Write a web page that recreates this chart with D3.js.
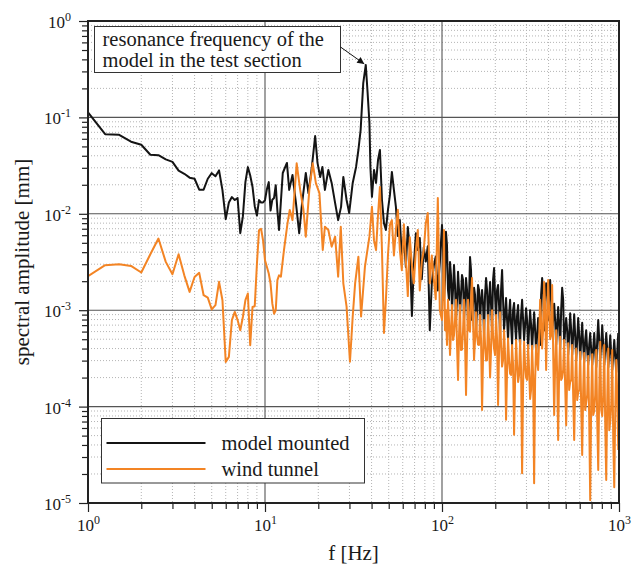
<!DOCTYPE html>
<html>
<head>
<meta charset="utf-8">
<script src="https://cdn.jsdelivr.net/npm/d3@7/dist/d3.min.js"></script>
<style>
  body { margin: 0; background: #fff; }
  svg text { font-family: 'Liberation Serif', 'Times New Roman', serif; fill: #1a1a1a; }
</style>
</head>
<body>
<div id="chart"></div>
<script>
// 1 - 12 Hz, both spectra on the same bins
const fLow = [1, 1.25, 1.5, 1.75, 2, 2.25, 2.5, 2.75, 3, 3.25, 3.5, 3.75, 4, 4.25, 4.5, 4.75, 5, 5.25, 5.5, 5.75,
  6, 6.25, 6.5, 6.75, 7, 7.25, 7.5, 7.75, 8, 8.25, 8.5, 8.75, 9, 9.25, 9.5, 9.75, 10, 10.25, 10.5, 10.75,
  11, 11.25, 11.5, 11.75, 12]
const blackLow = [0.113, 0.067, 0.066, 0.056, 0.052, 0.041, 0.0405, 0.0367, 0.0346, 0.028, 0.026, 0.0237, 0.0231, 0.0178, 0.0178, 0.0231, 0.0264, 0.0245, 0.0282, 0.0176,
  0.0088, 0.0131, 0.0149, 0.0139, 0.0146, 0.0063, 0.0094, 0.0213, 0.0305, 0.025, 0.0191, 0.012, 0.0096, 0.0139, 0.0131, 0.0131, 0.0139, 0.018, 0.0213, 0.0108,
  0.014, 0.0146, 0.0198, 0.0108, 0.0068]
const orangeLow = [2.25e-3, 2.93e-3, 3.0e-3, 2.88e-3, 2.46e-3, 3.81e-3, 5.54e-3, 3.17e-3, 2.36e-3, 3.81e-3, 2.3e-3, 1.55e-3, 2.21e-3, 2.44e-3, 1.43e-3, 1.35e-3, 1.02e-3, 1.13e-3, 1.97e-3, 1.27e-3,
  2.91e-4, 3.28e-4, 7.9e-4, 9.6e-4, 7.9e-4, 6.2e-4, 8.5e-4, 1.27e-3, 1.49e-3, 4.33e-4, 1.08e-3, 1.1e-3, 3.0e-3, 6.76e-3, 7.0e-3, 5.3e-3, 3.3e-3, 2.81e-3, 2.4e-3, 1.89e-3,
  1.17e-3, 9.2e-4, 1.0e-3, 2.05e-3, 2.3e-3]

// 12 - 40 Hz, read separately for each trace
const fBlack12 = [12.6, 13.3, 13.7, 14.3, 14.96, 15.6, 16.2, 17.0, 17.6, 18.4, 19.2, 19.8, 20.5, 21.1, 21.8, 22.8, 23.8, 24.9, 25.9, 26.9,
  27.7, 28.9, 29.9, 31.3, 32.7, 33.7, 34.7, 35.9, 37.1, 38.0, 38.9, 39.4]
const black12 = [0.0265, 0.0337, 0.0177, 0.0253, 0.0129, 0.0063, 0.0129, 0.0265, 0.0164, 0.0306, 0.0641, 0.0337, 0.0241, 0.0306, 0.0177, 0.0285, 0.0209, 0.0129, 0.0086, 0.0118,
  0.0241, 0.0139, 0.0102, 0.0209, 0.0306, 0.0459, 0.074, 0.227, 0.35, 0.179, 0.0875, 0.0305]
const fOrange12 = [12.3, 12.8, 13.4, 13.8, 14.3, 15.1, 15.8, 16.5, 17.0, 17.8, 18.6, 19.4, 20.3, 21.2, 21.8, 22.8, 23.8, 24.9, 25.9, 26.8,
  27.7, 28.9, 30.2, 31.3, 32.3, 33.7, 34.9, 36.7, 38.9]
const orange12 = [2.23e-3, 4.21e-3, 7.97e-3, 0.01095, 8.6e-3, 0.0334, 0.0177, 0.01095, 5.79e-3, 0.0177, 0.0334, 0.0207, 0.0164, 4.21e-3, 7.35e-3, 6.8e-3, 4.56e-3, 5.79e-3, 2.23e-3, 7.35e-3,
  1.9e-3, 1.09e-3, 2.92e-4, 8.6e-4, 1.9e-3, 3.59e-3, 8.6e-4, 2.83e-3, 5.79e-3]

// 40 - 100 Hz
const fMid = [40.2, 41.3, 42.4, 43.5, 44.6, 45.8, 47.0, 48.2, 49.5, 50.8, 52.1, 53.5, 54.9, 56.3, 57.8, 59.3, 60.9, 62.5, 64.1, 65.8,
  67.6, 69.3, 71.2, 73.0, 74.9, 76.9, 78.9, 81.0, 83.1, 85.3, 87.6, 89.9, 92.2, 94.7, 97.2]
const blackMid = [0.015, 0.0285, 0.0209, 0.0361, 0.0459, 0.0139, 0.008, 0.0068, 0.011, 0.0157, 0.0272, 0.0177, 0.0118, 0.0059, 0.0086, 0.0036, 0.0059, 0.0028, 0.0073, 0.0042,
  8.7e-4, 0.0029, 0.0063, 0.0042, 0.0056, 0.0021, 0.0045, 0.0032, 0.0046, 6.2e-4, 0.0019, 0.0029, 0.0036, 0.0016, 0.0031]
const orangeMid = [0.0118, 0.0053, 0.0042, 0.0097, 0.019, 0.0042, 5.8e-4, 1.28e-3, 0.0037, 0.0077, 0.0086, 0.0037, 0.0068, 0.011, 0.0042, 0.0026, 0.0078, 0.0033, 0.0014, 0.0057,
  0.0029, 0.0019, 0.0042, 0.0068, 0.0016, 0.0032, 0.0042, 0.008, 0.0102, 0.0019, 0.0037, 0.0021, 0.0013, 0.0146, 0.001]

// 100 - 1000 Hz (dense noisy part), peaks and dips
const fHigh = [100.0, 102.6, 105.3, 108.1, 111.0, 113.9, 116.9, 120.0, 123.2, 126.4, 129.7, 133.2, 136.7, 140.3, 144.0, 147.8, 151.7, 155.7, 159.8, 164.0,
  168.4, 172.8, 177.4, 182.1, 186.9, 191.8, 196.9, 202.0, 207.4, 212.8, 218.5, 224.2, 230.1, 236.2, 242.5, 248.9, 255.4, 262.2, 269.1, 276.2,
  283.5, 291.0, 298.6, 306.5, 314.6, 322.9, 331.5, 340.2, 349.2, 358.4, 367.9, 377.6, 387.6, 397.8, 408.3, 419.1, 430.2, 441.5, 453.2, 465.1,
  477.4, 490.0, 503.0, 516.2, 529.9, 543.8, 558.2, 572.9, 588.0, 603.6, 619.5, 635.9, 652.7, 669.9, 687.6, 705.8, 724.4, 743.5, 763.2, 783.3,
  804.0, 825.3, 847.0, 869.4, 892.4, 915.9, 940.1, 965.0, 990.4]
const blackHigh = [7.65e-3, 1.28e-3, 6.5e-3, 1.62e-3, 3.16e-3, 1.0e-3, 2.94e-3, 7.9e-4, 2.5e-3, 8.9e-4, 2.32e-3, 7.9e-4, 2.16e-3, 7.0e-4, 3.56e-3, 7.9e-4, 1.71e-3, 6.2e-4, 1.83e-3, 7.0e-4,
  1.62e-3, 5.5e-4, 2.16e-3, 7.0e-4, 1.96e-3, 6.2e-4, 2.74e-3, 7.9e-4, 1.83e-3, 5.5e-4, 2.61e-3, 6.2e-4, 1.34e-3, 4.9e-4, 1.28e-3, 4.36e-4, 1.19e-3, 4.9e-4, 1.13e-3, 4.36e-4,
  1.28e-3, 4.9e-4, 1.05e-3, 4.0e-4, 1.0e-3, 3.87e-4, 9.5e-4, 3.68e-4, 8.3e-4, 4.36e-4, 2.16e-3, 6.2e-4, 1.9e-3, 7.9e-4, 2.06e-3, 6.2e-4, 1.17e-3, 4.36e-4, 1.08e-3, 3.87e-4,
  1.71e-3, 4.36e-4, 8.3e-4, 3.43e-4, 9.3e-4, 3.43e-4, 9.1e-4, 3.04e-4, 8.3e-4, 3.04e-4, 7.4e-4, 2.88e-4, 6.2e-4, 2.7e-4, 5.8e-4, 2.7e-4, 5.8e-4, 2.55e-4, 7.9e-4, 3.04e-4,
  7.0e-4, 2.7e-4, 5.8e-4, 2.55e-4, 5.5e-4, 2.4e-4, 4.9e-4, 2.27e-4, 5.8e-4]
const orangeHigh = [7.9e-4, 6.79e-3, 1.0e-3, 1.28e-3, 3.43e-4, 1.13e-3, 5.5e-4, 1.28e-3, 1.89e-4, 1.13e-3, 3.9e-4, 1.28e-3, 1.32e-4, 1.28e-3, 6.0e-4, 2.16e-3, 3.04e-4, 9.5e-4, 4.4e-4, 8.9e-4,
  9.2e-5, 7.9e-4, 3.0e-4, 8.9e-4, 2.0e-4, 1.0e-3, 4.0e-4, 8.9e-4, 1.04e-4, 9.5e-4, 2.6e-4, 6.2e-4, 7.3e-5, 5.1e-4, 2.2e-4, 4.36e-4, 5.1e-5, 4.9e-4, 1.8e-4, 4.9e-4,
  2.04e-5, 4.7e-4, 2.0e-4, 4.36e-4, 1.2e-4, 4.27e-4, 1.6e-5, 4.36e-4, 2.4e-4, 1.28e-3, 4.0e-4, 1.96e-3, 2.4e-4, 2.06e-3, 5.0e-4, 1.83e-3, 8.2e-5, 6.2e-4, 4.5e-5, 5.3e-4,
  2.0e-4, 4.9e-4, 6.4e-5, 4.55e-4, 1.8e-4, 4.36e-4, 4.5e-5, 4.0e-4, 1.4e-4, 3.68e-4, 3.15e-5, 3.6e-4, 1.1e-4, 3.35e-4, 1.07e-5, 3.5e-4, 9.0e-5, 3.87e-4, 2.2e-5, 4.7e-4,
  8.0e-5, 4.36e-4, 1.73e-5, 4.0e-4, 7.0e-5, 3.87e-4, 1.46e-5, 3.04e-4, 3.55e-5]

// 100 - 1000 Hz, bins in between (body of the noise band)
const fHigh2 = [101.3, 104.0, 106.7, 109.5, 112.4, 115.4, 118.4, 121.6, 124.8, 128.0, 131.5, 134.9, 138.5, 142.1, 145.9, 149.7, 153.7, 157.7, 161.9, 166.2,
  170.6, 175.1, 179.7, 184.4, 189.3, 194.3, 199.4, 204.7, 210.1, 215.6, 221.3, 227.2, 233.2, 239.3, 245.6, 252.1, 258.8, 265.6, 272.6, 279.8,
  287.2, 294.8, 302.5, 310.5, 318.7, 327.1, 335.8, 344.7, 353.8, 363.1, 372.7, 382.6, 392.7, 403.0, 413.7, 424.6, 435.8, 447.3, 459.1, 471.2,
  483.7, 496.4, 509.5, 523.0, 536.8, 551.0, 565.5, 580.4, 595.8, 611.5, 627.6, 644.2, 661.2, 678.7, 696.6, 715.0, 733.9, 753.3, 773.2, 793.6,
  814.6, 836.1, 858.2, 880.8, 904.1, 928.0, 952.5, 977.6]
const blackHigh2 = [4.21e-3, 2.06e-3, 4.75e-3, 1.28e-3, 2.32e-3, 1.62e-3, 1.83e-3, 1.28e-3, 1.62e-3, 1.44e-3, 2.06e-3, 1.28e-3, 1.62e-3, 1.28e-3, 2.61e-3, 1.13e-3, 1.44e-3, 1.0e-3, 1.62e-3, 1.28e-3,
  1.13e-3, 1.44e-3, 1.62e-3, 1.28e-3, 1.13e-3, 2.06e-3, 1.44e-3, 1.62e-3, 1.13e-3, 1.62e-3, 1.28e-3, 8.9e-4, 7.9e-4, 8.9e-4, 7.0e-4, 1.0e-3, 7.0e-4, 8.9e-4, 6.2e-4, 8.9e-4,
  7.9e-4, 7.0e-4, 7.9e-4, 6.2e-4, 7.0e-4, 6.2e-4, 6.2e-4, 5.5e-4, 6.2e-4, 1.44e-3, 1.62e-3, 1.28e-3, 1.83e-3, 1.28e-3, 1.28e-3, 7.9e-4, 7.9e-4, 7.0e-4, 7.0e-4, 1.0e-3,
  1.28e-3, 6.2e-4, 6.2e-4, 5.5e-4, 6.2e-4, 5.5e-4, 5.5e-4, 4.9e-4, 5.5e-4, 4.9e-4, 4.36e-4, 4.9e-4, 3.87e-4, 4.36e-4, 3.87e-4, 4.0e-4, 3.68e-4, 4.9e-4, 4.9e-4, 4.36e-4,
  4.36e-4, 3.87e-4, 3.87e-4, 3.68e-4, 3.43e-4, 3.43e-4, 3.3e-4, 3.68e-4]
const orangeHigh2 = [1.62e-3, 6.2e-4, 4.36e-4, 7.9e-4, 6.2e-4, 4.9e-4, 7.9e-4, 4.36e-4, 5.5e-4, 3.87e-4, 6.2e-4, 4.9e-4, 4.36e-4, 6.2e-4, 1.28e-3, 7.9e-4, 4.9e-4, 5.5e-4, 4.36e-4, 4.9e-4,
  3.43e-4, 4.36e-4, 3.04e-4, 4.9e-4, 3.87e-4, 5.5e-4, 3.43e-4, 4.9e-4, 3.87e-4, 4.36e-4, 3.04e-4, 3.43e-4, 2.4e-4, 3.04e-4, 2.13e-4, 2.7e-4, 1.89e-4, 2.7e-4, 2.13e-4, 2.4e-4,
  1.67e-4, 2.7e-4, 1.89e-4, 2.4e-4, 1.49e-4, 2.13e-4, 1.89e-4, 3.04e-4, 4.9e-4, 7.9e-4, 6.2e-4, 1.13e-3, 7.9e-4, 1.0e-3, 5.5e-4, 3.87e-4, 2.7e-4, 2.13e-4, 2.4e-4, 1.89e-4,
  2.4e-4, 1.67e-4, 2.13e-4, 1.49e-4, 1.89e-4, 1.32e-4, 1.67e-4, 1.17e-4, 1.49e-4, 1.04e-4, 1.49e-4, 9.2e-5, 1.32e-4, 7.3e-5, 1.17e-4, 8.2e-5, 1.32e-4, 7.3e-5, 1.49e-4, 9.2e-5,
  1.32e-4, 6.4e-5, 1.17e-4, 5.7e-5, 1.04e-4, 4.5e-5, 9.2e-5, 1.32e-4]

const xMajor = [1, 10, 100, 1000]
const yMajor = [1e-5, 1e-4, 1e-3, 1e-2, 1e-1, 1]
const seriesNames = ['model mounted', 'wind tunnel']
const seriesColors = ['#141414', '#f38424']
const noteLines = ['resonance frequency of the', 'model in the test section']
const peak = { f: 37.1, v: 0.35 }

const zip = (fs, vs) => fs.map((f, i) => ({ f: f, v: vs[i] }))
const blackData = [].concat(zip(fLow, blackLow), zip(fBlack12, black12), zip(fMid, blackMid),
  zip(fHigh, blackHigh), zip(fHigh2, blackHigh2)).sort((a, b) => a.f - b.f)
const orangeData = [].concat(zip(fLow, orangeLow), zip(fOrange12, orange12), zip(fMid, orangeMid),
  zip(fHigh, orangeHigh), zip(fHigh2, orangeHigh2)).sort((a, b) => a.f - b.f)

let w = 635, h = 566
let margin = { left: 88, right: 16, top: 21, bottom: 63 }
let iw = w - margin.left - margin.right,
  ih = h - margin.top - margin.bottom

let svg = d3.select('#chart').append('svg')
  .attr('width', w).attr('height', h)
let g = svg.append('g')
  .attr('transform', `translate(${margin.left},${margin.top})`)

let x = d3.scaleLog().domain([1, 1000]).range([0, iw])
let y = d3.scaleLog().domain([1e-5, 1]).range([ih, 0])

// minor values 2..9 per decade
let xMinor = [], yMinor = []
xMajor.slice(0, -1).forEach(d => { for (let k = 2; k < 10; k++) xMinor.push(d * k) })
yMajor.slice(0, -1).forEach(d => { for (let k = 2; k < 10; k++) yMinor.push(d * k) })

// grid
let grid = g.append('g')
grid.selectAll('line.vmin').data(xMinor).enter().append('line')
  .attr('x1', d => x(d)).attr('x2', d => x(d)).attr('y1', 0).attr('y2', ih)
  .attr('stroke', '#b4b4b4').attr('stroke-dasharray', '1,2')
grid.selectAll('line.hmin').data(yMinor).enter().append('line')
  .attr('y1', d => y(d)).attr('y2', d => y(d)).attr('x1', 0).attr('x2', iw)
  .attr('stroke', '#b4b4b4').attr('stroke-dasharray', '1,2')
grid.selectAll('line.vmaj').data(xMajor.slice(1, -1)).enter().append('line')
  .attr('x1', d => x(d)).attr('x2', d => x(d)).attr('y1', 0).attr('y2', ih)
  .attr('stroke', '#555').attr('stroke-width', 1.1)
grid.selectAll('line.hmaj').data(yMajor.slice(1, -1)).enter().append('line')
  .attr('y1', d => y(d)).attr('y2', d => y(d)).attr('x1', 0).attr('x2', iw)
  .attr('stroke', '#555').attr('stroke-width', 1.1)

// traces
svg.append('clipPath').attr('id', 'plotclip').append('rect')
  .attr('width', iw).attr('height', ih)
let line = d3.line().x(d => x(d.f)).y(d => y(d.v))
let traces = g.append('g').attr('clip-path', 'url(#plotclip)')
traces.selectAll('path').data([blackData, orangeData]).enter().append('path')
  .attr('d', line)
  .attr('fill', 'none')
  .attr('stroke', (d, i) => seriesColors[i])
  .attr('stroke-width', 2)
  .attr('stroke-linejoin', 'round')

// axes, minor ticks short, major ticks long
function expLabel (sel) {
  sel.text(null).each(function (d) {
    let t = d3.select(this)
    t.append('tspan').text('10')
    t.append('tspan').attr('dy', -7).attr('font-size', 12).text(Math.round(Math.log10(d)))
  })
}
g.append('g').attr('transform', `translate(0,${ih})`)
  .call(d3.axisBottom(x).tickValues(xMinor).tickSize(6).tickFormat(''))
g.append('g').attr('transform', `translate(0,${ih})`)
  .call(d3.axisBottom(x).tickValues(xMajor).tickSize(9).tickPadding(19).tickFormat(''))
  .selectAll('.tick text').attr('font-size', 17).attr('dy', 0).call(expLabel)
g.append('g')
  .call(d3.axisLeft(y).tickValues(yMinor).tickSize(6).tickFormat(''))
g.append('g')
  .call(d3.axisLeft(y).tickValues(yMajor).tickSize(9).tickPadding(8).tickFormat(''))
  .selectAll('.tick text').attr('font-size', 17).attr('dy', 6.5).call(expLabel)
g.selectAll('.domain').remove()
g.selectAll('.tick line').attr('stroke', '#222').attr('stroke-width', 1.2)
g.selectAll('.tick text').attr('font-family', null).attr('fill', '#1a1a1a')

// frame
g.append('rect').attr('width', iw).attr('height', ih)
  .attr('fill', 'none').attr('stroke', '#222').attr('stroke-width', 2)

// axis titles
svg.append('text').attr('x', margin.left + iw / 2).attr('y', 560)
  .attr('text-anchor', 'middle').attr('font-size', 21).text('f [Hz]')
svg.append('text').attr('transform', `translate(29,${margin.top + ih / 2}) rotate(-90)`)
  .attr('text-anchor', 'middle').attr('font-size', 21).text('spectral amplitude [mm]')

// annotation with arrow to the peak
let defs = svg.append('defs')
defs.append('marker').attr('id', 'arrowhead')
  .attr('viewBox', '0 0 10 10').attr('refX', 10).attr('refY', 5)
  .attr('markerWidth', 10).attr('markerHeight', 7).attr('markerUnits', 'userSpaceOnUse')
  .attr('orient', 'auto')
  .append('path').attr('d', 'M0,0L10,5L0,10Z').attr('fill', '#111')
let note = g.append('g').attr('transform', 'translate(6.5,5.5)')
note.append('rect').attr('width', 246).attr('height', 46)
  .attr('fill', '#fff').attr('stroke', '#333').attr('stroke-width', 1)
note.selectAll('text').data(noteLines).enter().append('text')
  .attr('x', 8).attr('y', (d, i) => 19.5 + i * 20.5)
  .attr('font-size', 20.5).text(d => d)
g.append('line')
  .attr('x1', 252.5).attr('y1', 26)
  .attr('x2', x(peak.f) - 1.5).attr('y2', y(peak.v) - 1)
  .attr('stroke', '#111').attr('stroke-width', 1)
  .attr('marker-end', 'url(#arrowhead)')

// legend
let legend = g.append('g').attr('transform', 'translate(13.5,397.5)')
legend.append('rect').attr('width', 263).attr('height', 64.5)
  .attr('fill', '#fff').attr('stroke', '#333').attr('stroke-width', 1)
let items = legend.selectAll('g.item').data(seriesNames).enter().append('g')
  .attr('transform', (d, i) => `translate(0,${24.5 + i * 26})`)
items.append('line').attr('x1', 5).attr('x2', 104)
  .attr('stroke', (d, i) => seriesColors[i]).attr('stroke-width', 2)
items.append('text').attr('x', 120).attr('y', 6.5)
  .attr('font-size', 20.5).text(d => d)
</script>
</body>
</html>
